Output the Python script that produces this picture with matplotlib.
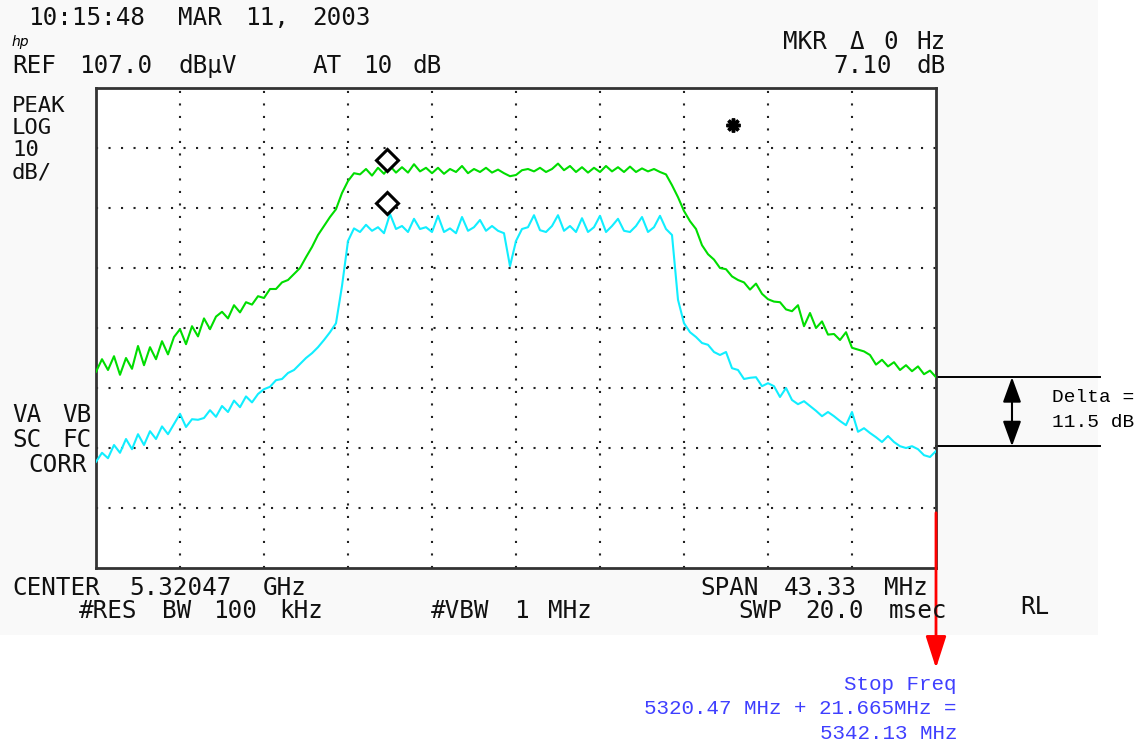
import numpy as np
import matplotlib.pyplot as plt
from matplotlib.patches import Rectangle

# analyzer settings
center_mhz = 5320.47
span_mhz = 43.33
ref_level = 107.0
db_per_div = 10.0

# trace A (green, max hold) in dBuV, evenly spaced sweep points across the span
green_db = [
    59.7, 61.8, 60.0, 62.3, 59.2, 62.0, 60.2, 64.0, 60.8, 63.8,
    61.8, 64.8, 62.6, 65.5, 66.8, 64.3, 67.3, 65.6, 68.6, 66.8,
    68.9, 69.7, 68.6, 70.8, 69.6, 71.3, 70.9, 72.3, 72.0, 73.5,
    73.5, 74.6, 75.0, 76.0, 77.0, 78.8, 80.5, 82.5, 84.0, 85.5,
    86.8, 89.5, 91.5, 92.8, 92.6, 93.5, 92.4, 93.7, 92.7, 94.0,
    92.9, 93.8, 92.9, 94.3, 93.1, 93.7, 92.8, 93.7, 92.7, 93.5,
    93.0, 94.0, 92.8, 93.5, 93.0, 93.7, 92.9, 93.4, 92.8, 92.3,
    92.5, 93.3, 93.5, 93.1, 93.7, 93.0, 93.5, 94.4, 93.3, 94.0,
    93.0, 93.8, 92.9, 93.7, 93.0, 94.0, 93.1, 93.8, 93.0, 93.9,
    93.0, 93.6, 93.1, 93.5, 93.0, 92.6, 90.8, 88.8, 86.5, 84.8,
    83.5, 80.8, 79.3, 78.4, 77.0, 76.8, 75.6, 75.0, 74.6, 73.4,
    74.4, 72.7, 71.8, 71.4, 71.3, 70.1, 69.8, 70.8, 67.3, 69.5,
    67.0, 68.1, 65.9, 66.0, 65.0, 66.3, 63.7, 63.4, 63.1, 62.5,
    60.9, 61.7, 60.6, 61.3, 60.0, 60.8, 59.8, 60.6, 59.3, 59.9,
    58.8,
]

# trace B (cyan, corrected) in dBuV
cyan_db = [
    44.7, 46.2, 45.3, 47.5, 46.2, 48.5, 46.8, 49.3, 47.5, 49.8,
    48.5, 50.6, 49.3, 51.0, 52.7, 50.5, 51.8, 51.7, 52.0, 53.3,
    52.2, 54.0, 53.0, 54.9, 53.8, 55.6, 54.6, 56.0, 56.8, 57.2,
    58.3, 58.5, 59.5, 60.0, 61.0, 62.0, 62.8, 63.8, 65.0, 66.3,
    67.8, 74.0, 81.5, 83.6, 83.0, 84.2, 83.2, 83.8, 82.8, 86.0,
    83.5, 84.0, 83.0, 85.2, 83.5, 83.8, 83.0, 85.7, 83.0, 83.6,
    82.8, 85.5, 83.2, 83.8, 85.0, 83.2, 84.0, 83.2, 82.8, 77.3,
    81.5, 83.5, 83.8, 85.8, 83.3, 83.0, 84.0, 85.8, 83.2, 84.0,
    83.0, 85.3, 83.0, 83.8, 85.7, 83.0, 84.0, 85.2, 83.2, 83.0,
    84.0, 85.5, 83.0, 83.8, 85.7, 83.5, 82.5, 71.7, 67.8, 66.3,
    65.5, 64.5, 64.2, 63.0, 62.5, 63.0, 60.3, 60.0, 58.5, 58.7,
    58.8, 57.3, 57.8, 57.3, 55.5, 57.0, 55.0, 54.3, 54.8, 54.0,
    53.2, 52.3, 53.0, 52.3, 51.5, 50.8, 53.0, 49.7, 50.3, 49.5,
    48.8, 48.0, 49.0, 48.0, 47.3, 47.0, 47.3, 46.8, 45.8, 45.5,
    46.5,
]

# markers
marker_freq = 5313.82
marker_db = [95.0, 87.8]
star_freq = 5331.66
star_db = 100.8

# delta annotation levels
delta_top = 58.8
delta_bot = 47.3
stop_arrow_top = 36.2

f_start = center_mhz - span_mhz / 2
f_stop = center_mhz + span_mhz / 2
freq = np.linspace(f_start, f_stop, len(green_db))

W, H = 1146, 744
fig = plt.figure(figsize=(W / 100, H / 100), dpi=100)
fig.patch.set_facecolor('white')
fig.add_artist(Rectangle((0, 1 - 635 / H), 1098 / W, 635 / H, transform=fig.transFigure,
                         facecolor='#f9f9f9', edgecolor='none', zorder=-5))

ax = fig.add_axes([96 / W, 1 - 568 / H, 840 / W, 480 / H])
ax.set_facecolor('white')
ax.set_xlim(f_start, f_stop)
ax.set_ylim(ref_level - 8 * db_per_div, ref_level)
ax.set_xticks([f_start + k * span_mhz / 10 for k in range(1, 10)])
ax.set_yticks([ref_level - k * db_per_div for k in range(1, 8)])
ax.tick_params(length=0, labelbottom=False, labelleft=False)
ax.grid(True, color='#222222', linestyle=(0, (1, 5)), linewidth=1.5)
for s in ax.spines.values():
    s.set_color('#333333')
    s.set_linewidth(2)

ax.plot(freq, green_db, color='#00dd00', lw=1.5, zorder=3)
ax.plot(freq, cyan_db, color='#11eeff', lw=1.5, zorder=3)
ax.plot([marker_freq] * 2, marker_db, linestyle='none', marker='D', markersize=11,
        markerfacecolor='white', markeredgecolor='black', markeredgewidth=2.2, zorder=4)
ax.plot([star_freq], [star_db], marker=(8, 2, 0), markersize=10, color='black',
        markeredgewidth=2.5, zorder=4)

# delta annotation to the right of the graticule
ext = f_stop + 8.46
ax.plot([f_stop, ext], [delta_top, delta_top], color='black', lw=1.4, clip_on=False)
ax.plot([f_stop, ext], [delta_bot, delta_bot], color='black', lw=1.4, clip_on=False)
ax.annotate('', xy=(f_stop + 3.92, delta_top), xytext=(f_stop + 3.92, delta_bot),
            annotation_clip=False,
            arrowprops=dict(arrowstyle='<|-|>,head_length=1.1,head_width=0.4',
                            mutation_scale=14, color='black', lw=1.5, shrinkA=0, shrinkB=0))
ax.annotate('', xy=(f_stop, 10.3), xytext=(f_stop, stop_arrow_top),
            annotation_clip=False,
            arrowprops=dict(arrowstyle='-|>,head_length=1.4,head_width=0.45',
                            mutation_scale=14, color='red', lw=2, shrinkA=0, shrinkB=0))


def put(x, y, s, **kw):
    fig.text(x / W, 1 - y / H, s, **kw)


def mono(x0, y, s, pitch=16.7, size=17.5, **kw):
    # place words on the analyzer's fixed character grid
    col = 0
    for word in s.split(' '):
        if word:
            put(x0 + col * pitch, y, word, family='DejaVu Sans Mono', size=size,
                va='baseline', ha='left', color='#111111', **kw)
        col += len(word) + 1


mono(28, 25, '10:15:48 MAR 11, 2003')
put(12, 46, 'hp', family='DejaVu Sans', style='italic', size=10, va='baseline')
mono(12, 73, 'REF 107.0 dB\u03bcV    AT 10 dB')
mono(783, 49, 'MKR \u0394 0 Hz')
mono(833, 73, '7.10 dB')
# scale label block, one text so the tight lines do not collide
mono(12, 178, 'PEAK\nLOG\n10\ndB/', size=16, linespacing=1.13)
mono(12, 422, 'VA VB')
mono(12, 447, 'SC FC')
mono(28, 472, 'CORR')
mono(12, 595, 'CENTER 5.32047 GHz')
mono(700, 595, 'SPAN 43.33 MHz')
mono(79, 618, '#RES BW 100 kHz')
mono(431, 618, '#VBW 1 MHz')
mono(738, 618, 'SWP 20.0 msec')
mono(1020, 614, 'RL')

put(1052, 402, 'Delta =', family='Liberation Mono', size=14, va='baseline')
put(1052, 427, '11.5 dB', family='Liberation Mono', size=14, va='baseline')

blue = '#3f3fff'
put(957, 690, 'Stop Freq', family='Liberation Mono', size=15, va='baseline', ha='right', color=blue)
put(957, 714, '5320.47 MHz + 21.665MHz =', family='Liberation Mono', size=15, va='baseline',
    ha='right', color=blue)
put(957, 739, '5342.13 MHz', family='Liberation Mono', size=15, va='baseline', ha='right', color=blue)

fig.savefig('out.png', dpi=100)
